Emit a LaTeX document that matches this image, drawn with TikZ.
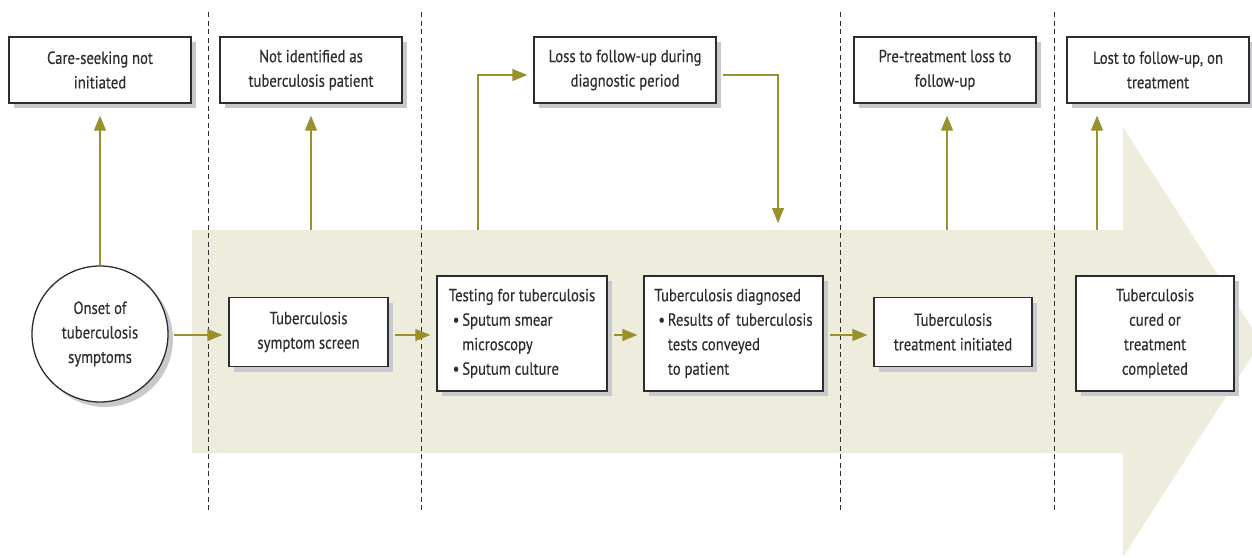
\documentclass[tikz,border=0pt]{standalone}
\usepackage{fontspec}
\setmainfont{PT Sans}[FakeStretch=0.84, FakeBold=0.4]
\usetikzlibrary{positioning, arrows.meta, shadows}
\definecolor{tbolive}{RGB}{152,145,45}
\definecolor{bandfill}{RGB}{238,237,221}
\definecolor{boxline}{RGB}{45,45,45}
\definecolor{shadowgray}{RGB}{200,201,204}
\tikzset{
flow/.style={draw=tbolive, line width=1.3pt, -{Triangle[length=15pt,width=12pt]}}, % olive connectors
boxshadow/.style={drop shadow={shadow xshift=5pt, shadow yshift=-5pt, fill=shadowgray, opacity=1}},
stage/.style={draw=boxline, line width=1.3pt, fill=white, boxshadow, align=center, inner sep=2pt}, % boxes on the band
outcome/.style={stage, minimum width=182pt, minimum height=66pt}, % boxes at the top
phase/.style={draw=boxline, line width=0.9pt, dash pattern=on 5pt off 3.5pt}, % dashed separators
}

\begin{document}
\begin{tikzpicture}[x=1pt, y=-1pt, font=\fontsize{17.5}{24.5}\selectfont, text=boxline]
    \useasboundingbox (0,0) rectangle (1252,557);
    % the big arrow in the background
    \begin{scope}
    \clip (0,0) rectangle (1252,557);
    \fill[bandfill] (192,230) -- (1123,230) -- (1123,127) -- (1261,342) -- (1123,557) -- (1123,453) -- (192,453) -- cycle;
    \end{scope}
    % separators
    \foreach \x in {208, 421, 840, 1054}
        \draw[phase] (\x,12) -- (\x,512);
    % outcomes at the top
    \node[outcome] (careseek) at (100,70) {Care-seeking not\\initiated};
    \node[outcome] (notid) at (311,70) {Not identified as\\tuberculosis patient};
    \node[outcome] (lossdiag) at (625,70) {Loss to follow-up during\\diagnostic period};
    \node[outcome] (pretreat) at (945,70) {Pre-treatment loss to\\follow-up};
    \node[outcome] (lostrx) at (1158,70) {Lost to follow-up, on\\treatment};
    % the steps along the arrow
    \node[stage, circle, minimum size=136pt, inner sep=0pt] (onset) at (100,334) {Onset of\\tuberculosis\\symptoms};
    \node[stage, minimum width=159pt, minimum height=69pt] (screen) at (308.5,332) {Tuberculosis\\symptom screen};
    \node[stage, minimum width=170pt, minimum height=115pt, align=left] (testing) at (522,333.5)
        {Testing for tuberculosis\\
        \ \textbullet\,Sputum smear\\
        \hphantom{\ \textbullet\,}microscopy\\
        \ \textbullet\,Sputum culture};
    \node[stage, minimum width=179pt, minimum height=115pt, align=left] (diagnosed) at (733.5,333.5)
        {Tuberculosis diagnosed\\
        \ \textbullet\,Results of\, tuberculosis\\
        \hphantom{\ \textbullet\,}tests conveyed\\
        \hphantom{\ \textbullet\,}to patient};
    \node[stage, minimum width=158pt, minimum height=69pt] (treatinit) at (953,332) {Tuberculosis\\treatment initiated};
    \node[stage, minimum width=158pt, minimum height=115pt] (cured) at (1155,333.5) {Tuberculosis\\cured or\\treatment\\completed};
    % points on the top edge of the arrow
    \coordinate (up2) at (311,230);
    \coordinate (up3) at (478,230);
    \coordinate (down3) at (778,230);
    \coordinate (up4) at (947,230);
    \coordinate (up5) at (1097,230);
    % flow along the arrow
    \draw[flow, shorten <=5pt, shorten >=6pt] (onset.east |- 0,335) -- (screen.west |- 0,335);
    \draw[flow, shorten <=6pt, shorten >=6pt] (screen.east |- 0,335) -- (testing.west |- 0,335);
    \draw[flow, shorten <=6pt, shorten >=6pt] (testing.east |- 0,335) -- (diagnosed.west |- 0,335);
    \draw[flow, shorten <=6pt] (diagnosed.east |- 0,335) -- ([xshift=-6pt]treatinit.west |- 0,335);
    % losses
    \draw[flow, shorten >=12pt] (onset.north) -- (onset.north |- careseek.south);
    \draw[flow, shorten >=12pt] (up2) -- (notid);
    \draw[flow, shorten >=6pt] (up3) |- (lossdiag.west |- 0,75);
    \draw[flow, shorten <=6pt, shorten >=7pt] (lossdiag.east |- 0,75) -| (down3);
    \draw[flow, shorten >=12pt] (up4) -- (pretreat.south -| up4);
    \draw[flow, shorten >=12pt] (up5) -- (lostrx.south -| up5);
\end{tikzpicture}
\end{document}
